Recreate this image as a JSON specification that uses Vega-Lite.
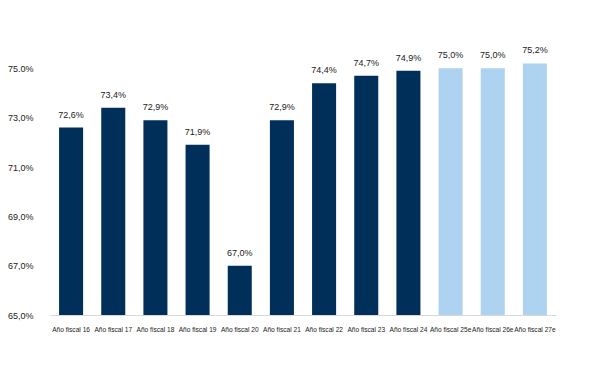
{
  "$schema": "https://vega.github.io/schema/vega-lite/v6.json",
  "autosize": {"type": "none"},
  "width": 506,
  "height": 296,
  "padding": {"left": 50, "top": 19, "right": 37, "bottom": 51},
  "background": "white",
  "config": {
    "view": {"stroke": null},
    "font": "Liberation Sans"
  },
  "data": {
    "values": [
      {"year": "Año fiscal 16", "value": 72.6, "type": "real", "label": "72,6%"},
      {"year": "Año fiscal 17", "value": 73.4, "type": "real", "label": "73,4%"},
      {"year": "Año fiscal 18", "value": 72.9, "type": "real", "label": "72,9%"},
      {"year": "Año fiscal 19", "value": 71.9, "type": "real", "label": "71,9%"},
      {"year": "Año fiscal 20", "value": 67.0, "type": "real", "label": "67,0%"},
      {"year": "Año fiscal 21", "value": 72.9, "type": "real", "label": "72,9%"},
      {"year": "Año fiscal 22", "value": 74.4, "type": "real", "label": "74,4%"},
      {"year": "Año fiscal 23", "value": 74.7, "type": "real", "label": "74,7%"},
      {"year": "Año fiscal 24", "value": 74.9, "type": "real", "label": "74,9%"},
      {"year": "Año fiscal 25e", "value": 75.0, "type": "est", "label": "75,0%"},
      {"year": "Año fiscal 26e", "value": 75.0, "type": "est", "label": "75,0%"},
      {"year": "Año fiscal 27e", "value": 75.2, "type": "est", "label": "75,2%"}
    ]
  },
  "encoding": {
    "x": {
      "field": "year",
      "type": "nominal",
      "sort": null,
      "scale": {"paddingInner": 0.43, "paddingOuter": 0.215},
      "axis": {
        "title": null,
        "labelAngle": 0,
        "labelFontSize": 6.6,
        "labelColor": "#222222",
        "labelPadding": 11,
        "ticks": false,
        "domainColor": "#d9d9d9",
        "domainWidth": 1,
        "labelOverlap": false
      }
    },
    "y": {
      "field": "value",
      "type": "quantitative",
      "scale": {"domain": [65, 77], "zero": false, "clamp": true},
      "axis": {
        "title": null,
        "values": [65, 67, 69, 71, 73, 75],
        "labelExpr": "datum.value == 75 ? '75.0%' : replace(format(datum.value, '.1f'), '.', ',') + '%'",
        "labelFontSize": 9,
        "labelColor": "#222222",
        "labelPadding": 17,
        "ticks": false,
        "domain": false,
        "grid": false
      }
    }
  },
  "layer": [
    {
      "mark": {"type": "bar"},
      "encoding": {
        "y2": {"datum": 65},
        "color": {
          "field": "type",
          "type": "nominal",
          "scale": {"domain": ["real", "est"], "range": ["#00305a", "#aed3f0"]},
          "legend": null
        }
      }
    },
    {
      "mark": {"type": "text", "baseline": "bottom", "dy": -8, "fontSize": 9, "color": "#222222"},
      "encoding": {
        "text": {"field": "label"}
      }
    }
  ]
}
